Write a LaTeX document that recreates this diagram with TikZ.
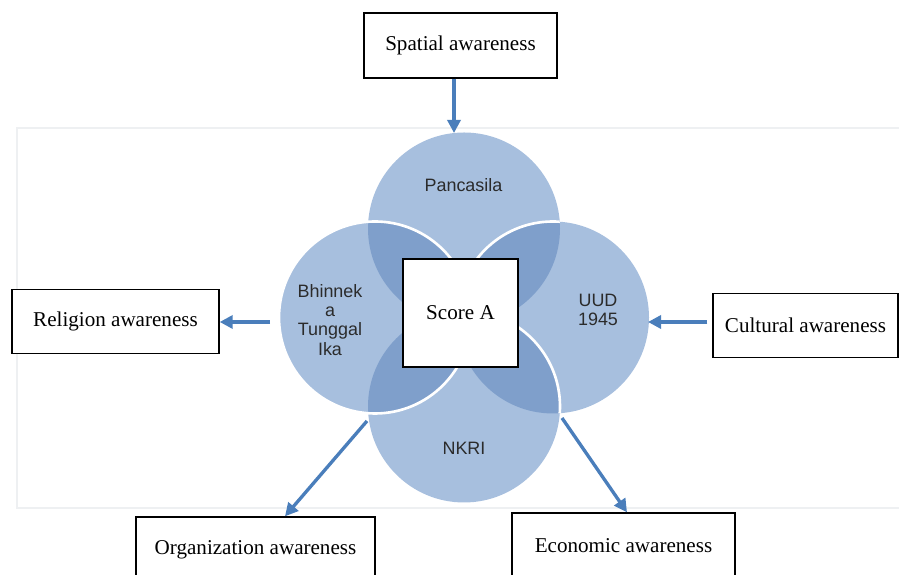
\documentclass[tikz,border=0pt]{standalone}
\usepackage{fontspec}
\setmainfont{Liberation Serif}
\newfontfamily\vnsans{Liberation Sans}
\usepackage{xcolor}
\usepackage{tikz}
\usetikzlibrary{arrows.meta}
\definecolor{VNBlue}{HTML}{A7BFDE}
\definecolor{VNDeep}{HTML}{7F9FCB}
\definecolor{VNArrow}{HTML}{4A7EBB}
\definecolor{VNFrame}{HTML}{EEF0F2}
\definecolor{VNText}{HTML}{2B2B2B}

\begin{document}
\begin{tikzpicture}[x=1cm,y=1cm,
  awarebox/.style={draw=black,line width=0.8pt,fill=white,minimum width=#1,minimum height=1.28cm,inner sep=0pt,font=\fontsize{12}{14}\selectfont},
  awarebox/.default=3.8cm,
  flow/.style={draw=VNArrow,line width=1.9pt,-{Triangle[length=7.4pt,width=7.4pt]}},
  pillar/.style={align=center,text=VNText,font=\vnsans\fontsize{10.2}{10.9}\selectfont},
  rim/.style={white,line width=1.5pt}]
\clip (0,0) rectangle (17.98,11.50);
\draw[VNFrame,line width=0.6pt] (0.34,1.34) rectangle (18.20,8.94);
% circle centres
\coordinate (cT) at (9.28,6.93);
\coordinate (cL) at (7.50,5.15);
\coordinate (cR) at (11.06,5.15);
\coordinate (cB) at (9.28,3.37);
\def\vr{1.92}
\fill[VNBlue] (cT) circle (\vr) (cL) circle (\vr) (cR) circle (\vr) (cB) circle (\vr);
% overlaps
\begin{scope}
\clip (cT) circle (\vr);
\fill[VNDeep] (cL) circle (\vr) (cR) circle (\vr);
\draw[rim] (cR) circle (\vr);
\end{scope}
\begin{scope}
\clip (cB) circle (\vr);
\fill[VNDeep] (cL) circle (\vr) (cR) circle (\vr);
\end{scope}
\begin{scope}
\clip (cR) circle (\vr);
\draw[rim] (cB) circle (\vr);
\end{scope}
\draw[rim] (cL) circle (\vr);
% labels in the circles
\node[pillar] (pancasila) at (9.27,7.80) {Pancasila};
\node[pillar] (bhinneka) at (6.60,5.10) {Bhinnek\\a\\Tunggal\\Ika};
\node[pillar] (uud) at (11.96,5.30) {UUD\\1945};
\node[pillar] (nkri) at (9.28,2.54) {NKRI};
% boxes
\node[awarebox=2.30cm,minimum height=2.16cm] (score) at (9.21,5.24) {Score A};
\node[awarebox=3.86cm,minimum height=1.30cm] (spatial) at (9.21,10.59) {Spatial awareness};
\node[awarebox=4.14cm] (religion) at (2.31,5.07) {Religion awareness};
\node[awarebox=3.70cm] (cultural) at (16.11,4.99) {Cultural awareness};
\node[awarebox=4.78cm,minimum height=1.30cm] (organization) at (5.11,0.51) {Organization awareness};
\node[awarebox=4.46cm,minimum height=1.30cm] (economic) at (12.47,0.59) {Economic awareness};
% arrows
\coordinate (tipT) at (9.08,8.84);
\coordinate (outL) at (5.40,5.06);
\coordinate (tipR) at (12.96,5.06);
\coordinate (outO) at (7.34,3.08);
\coordinate (tipO) at (5.70,1.18);
\coordinate (outE) at (11.24,3.14);
\coordinate (tipE) at (12.54,1.32);
\draw[flow] (spatial.south -| tipT) -- (tipT);
\draw[flow] (outL) -- (religion.east |- outL);
\draw[flow,shorten <=0.1cm] (cultural.west |- tipR) -- (tipR);
\draw[flow] (outO) -- (organization.north -| tipO);
\draw[flow] (outE) -- (economic.north -| tipE);
\end{tikzpicture}
\end{document}
